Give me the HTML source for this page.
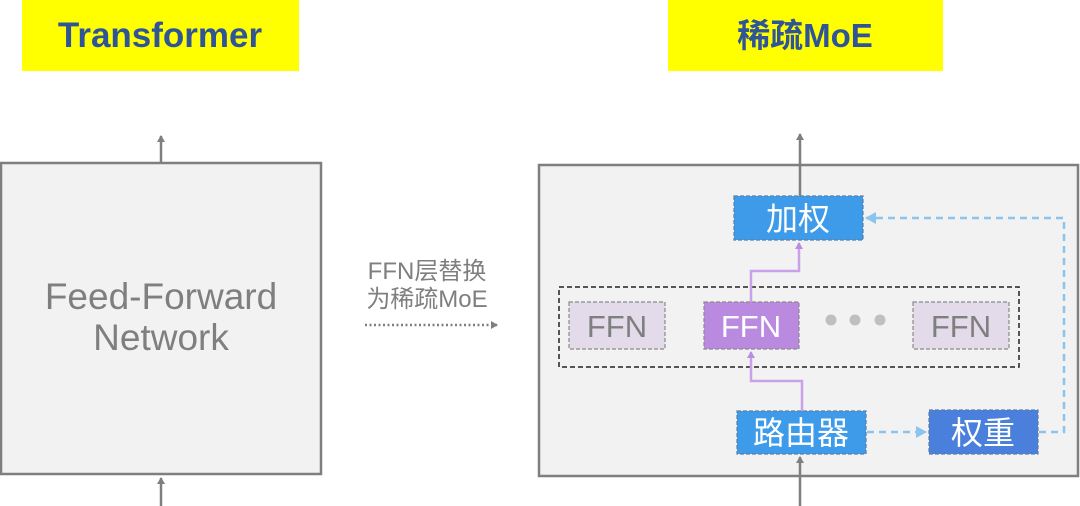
<!DOCTYPE html>
<html><head><meta charset="utf-8"><style>
html,body{margin:0;padding:0;background:#fff;}
svg{display:block;}
text{font-family:"Liberation Sans","Noto Sans CJK SC",sans-serif;}
</style></head><body>
<svg width="1080" height="506" viewBox="0 0 1080 506" xmlns="http://www.w3.org/2000/svg">
<defs>
<marker id="ag" markerWidth="8" markerHeight="8" refX="6" refY="4" orient="auto" markerUnits="userSpaceOnUse"><path d="M0,0 L7,4 L0,8 z" fill="#7f7f7f"/></marker>
<marker id="ap" markerWidth="8" markerHeight="8" refX="6" refY="4" orient="auto" markerUnits="userSpaceOnUse"><path d="M0,0 L7,4 L0,8 z" fill="#b88ee0"/></marker>
<marker id="ab" markerWidth="12" markerHeight="12" refX="10" refY="6" orient="auto" markerUnits="userSpaceOnUse"><path d="M0,0 L11,6 L0,12 z" fill="#8cc4ee"/></marker>
</defs>
<rect x="22" y="0" width="277" height="71" fill="#ffff00"/>
<text x="160" y="47" text-anchor="middle" font-size="35" font-weight="bold" fill="#2f5597">Transformer</text>
<rect x="668" y="0" width="275" height="71" fill="#ffff00"/>
<text x="805" y="47" text-anchor="middle" font-size="33" font-weight="bold" fill="#2f5597">稀疏MoE</text>

<line x1="161" y1="163" x2="161" y2="136" stroke="#7f7f7f" stroke-width="2.5" marker-end="url(#ag)"/>
<rect x="1" y="163" width="320" height="311" fill="#f2f2f2" stroke="#7f7f7f" stroke-width="2.5"/>
<text x="161" y="309" text-anchor="middle" font-size="37" fill="#7f7f7f">Feed-Forward</text>
<text x="161" y="350" text-anchor="middle" font-size="37" fill="#7f7f7f">Network</text>
<line x1="161" y1="506" x2="161" y2="478" stroke="#7f7f7f" stroke-width="2.5" marker-end="url(#ag)"/>

<text x="427" y="279" text-anchor="middle" font-size="24" fill="#7f7f7f">FFN层替换</text>
<text x="427" y="307" text-anchor="middle" font-size="24" fill="#7f7f7f">为稀疏MoE</text>
<line x1="365" y1="325" x2="497" y2="325" stroke="#7f7f7f" stroke-width="2.5" stroke-dasharray="2,2.5" marker-end="url(#ag)"/>

<rect x="539" y="165" width="539" height="311" fill="#f2f2f2" stroke="#7f7f7f" stroke-width="2.5"/>
<line x1="800" y1="196" x2="800" y2="134" stroke="#7f7f7f" stroke-width="2.5" marker-end="url(#ag)"/>
<line x1="800" y1="506" x2="800" y2="457" stroke="#7f7f7f" stroke-width="2.5" marker-end="url(#ag)"/>

<rect x="559" y="287" width="460" height="80" fill="none" stroke="#222" stroke-width="1.5" stroke-dasharray="5,3"/>

<polyline points="802,411 802,381 751,381 751,352" fill="none" stroke="#c8a2e8" stroke-width="2.5" marker-end="url(#ap)"/>
<polyline points="751,302 751,271 799,271 799,243" fill="none" stroke="#c8a2e8" stroke-width="2.5" marker-end="url(#ap)"/>

<rect x="734" y="196" width="129" height="44" fill="#3d9be9" stroke="#5a7fa8" stroke-width="1.2" stroke-dasharray="4,2"/>
<text x="798" y="230" text-anchor="middle" font-size="32" fill="#fff">加权</text>

<rect x="569" y="302" width="96" height="47" fill="#e3dbea" stroke="#8a8a8a" stroke-width="1.2" stroke-dasharray="4,2"/>
<text x="617" y="337" text-anchor="middle" font-size="31" fill="#7f7f7f">FFN</text>
<rect x="704" y="302" width="95" height="47" fill="#b98ae0" stroke="#8a8a8a" stroke-width="1.2" stroke-dasharray="4,2"/>
<text x="751" y="337" text-anchor="middle" font-size="31" fill="#fff">FFN</text>
<circle cx="831" cy="320" r="5.5" fill="#bfbfbf"/>
<circle cx="855" cy="320" r="5.5" fill="#bfbfbf"/>
<circle cx="880" cy="320" r="5.5" fill="#bfbfbf"/>
<rect x="913" y="302" width="96" height="47" fill="#e3dbea" stroke="#8a8a8a" stroke-width="1.2" stroke-dasharray="4,2"/>
<text x="961" y="337" text-anchor="middle" font-size="31" fill="#7f7f7f">FFN</text>

<rect x="737" y="411" width="129" height="43" fill="#3d9be9" stroke="#5a7fa8" stroke-width="1.2" stroke-dasharray="4,2"/>
<text x="801" y="444" text-anchor="middle" font-size="32" fill="#fff">路由器</text>
<rect x="929" y="410" width="109" height="44" fill="#4a7fdc" stroke="#5a7fa8" stroke-width="1.2" stroke-dasharray="4,2"/>
<text x="983" y="444" text-anchor="middle" font-size="32" fill="#fff">权重</text>

<line x1="867" y1="432" x2="926" y2="432" stroke="#8cc4ee" stroke-width="2.5" stroke-dasharray="7,5" marker-end="url(#ab)"/>
<polyline points="1039,432 1064,432 1064,218 866,218" fill="none" stroke="#8cc4ee" stroke-width="2.5" stroke-dasharray="7,5" marker-end="url(#ab)"/>
</svg>
</body></html>
